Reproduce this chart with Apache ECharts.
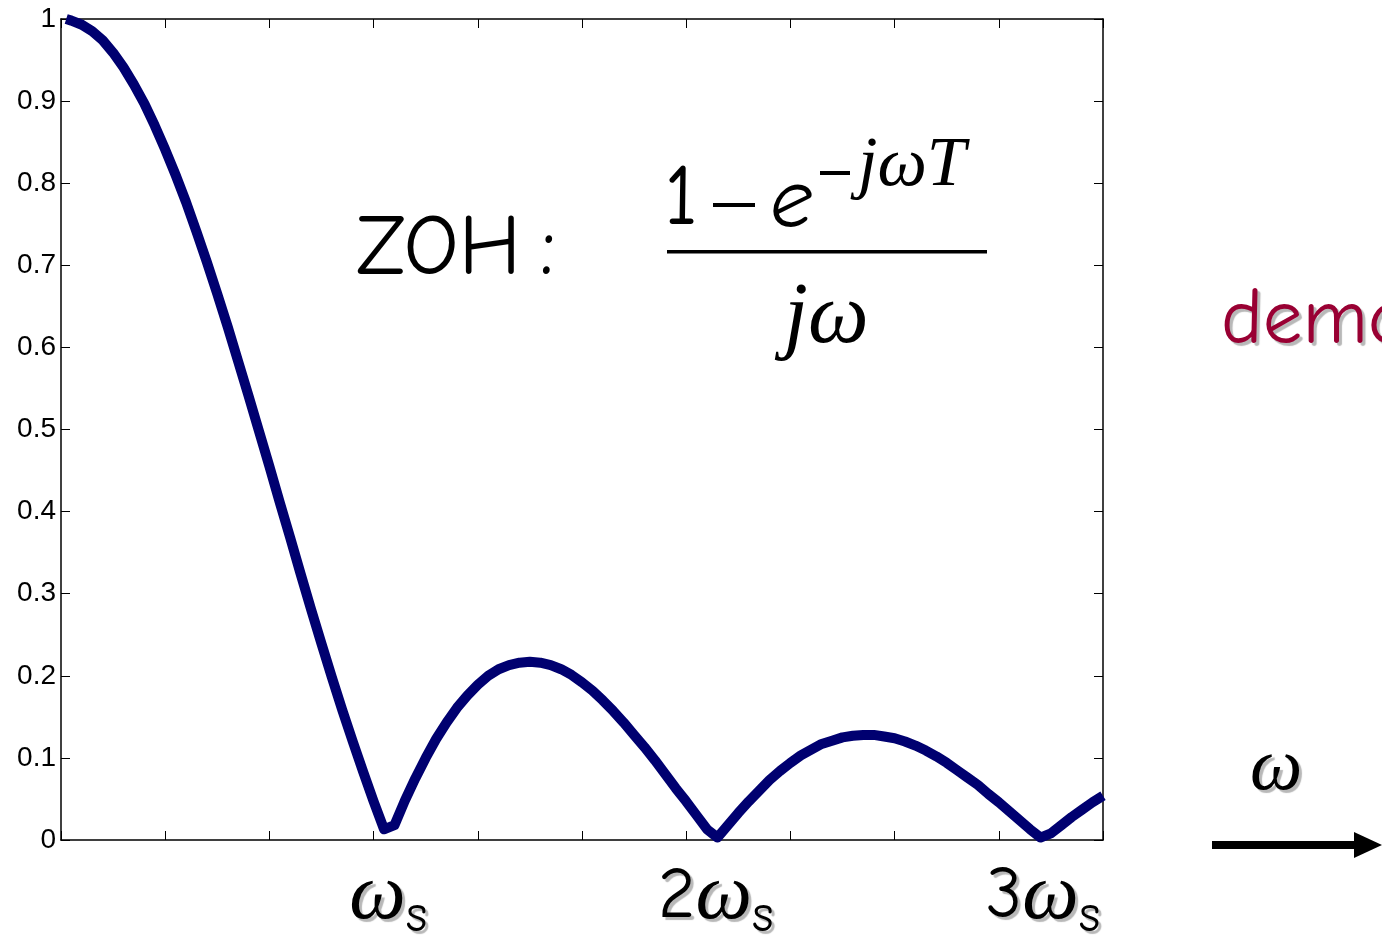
<!DOCTYPE html>
<html>
<head>
<meta charset="utf-8">
<script src="https://cdn.jsdelivr.net/npm/echarts@6/dist/echarts.min.js"></script>
<style>
  html, body { margin: 0; padding: 0; background: #fff; }
  #chart { width: 1382px; height: 939px; }
</style>
</head>
<body>
<div id="chart"></div>
<script>
// Normalised frequency samples (rad) and magnitude of the zero-order hold response
const freq = [
  0.05, 0.1, 0.2, 0.3, 0.4, 0.5, 0.6, 0.7, 0.8, 0.9,
  1.0, 1.1, 1.2, 1.3, 1.4, 1.5, 1.6, 1.7, 1.8, 1.9,
  2.0, 2.1, 2.2, 2.3, 2.4, 2.5, 2.6, 2.7, 2.8, 2.9,
  3.0, 3.1, 3.2, 3.3, 3.4, 3.5, 3.6, 3.7, 3.8, 3.9,
  4.0, 4.1, 4.2, 4.3, 4.4, 4.5, 4.6, 4.7, 4.8, 4.9,
  5.0, 5.1, 5.2, 5.3, 5.4, 5.5, 5.6, 5.7, 5.8, 5.9,
  6.0, 6.1, 6.2, 6.3, 6.4, 6.5, 6.6, 6.7, 6.8, 6.9,
  7.0, 7.1, 7.2, 7.3, 7.4, 7.5, 7.6, 7.7, 7.8, 7.9,
  8.0, 8.1, 8.2, 8.3, 8.4, 8.5, 8.6, 8.7, 8.8, 8.9,
  9.0, 9.1, 9.2, 9.3, 9.4, 9.5, 9.6, 9.7, 9.8, 9.9,
  10.0
];
const magnitude = [
  1.000, 0.998, 0.993, 0.985, 0.974, 0.959, 0.941, 0.920, 0.897, 0.870,
  0.841, 0.810, 0.777, 0.741, 0.704, 0.665, 0.625, 0.583, 0.541, 0.498,
  0.455, 0.411, 0.368, 0.324, 0.281, 0.239, 0.198, 0.158, 0.120, 0.083,
  0.047, 0.013, 0.018, 0.048, 0.075, 0.100, 0.123, 0.143, 0.161, 0.176,
  0.189, 0.200, 0.208, 0.213, 0.216, 0.217, 0.216, 0.213, 0.208, 0.201,
  0.192, 0.182, 0.170, 0.157, 0.143, 0.128, 0.113, 0.097, 0.080, 0.063,
  0.047, 0.030, 0.013, 0.003, 0.018, 0.033, 0.047, 0.060, 0.073, 0.084,
  0.094, 0.103, 0.110, 0.117, 0.121, 0.125, 0.127, 0.128, 0.128, 0.126,
  0.124, 0.120, 0.115, 0.109, 0.102, 0.094, 0.085, 0.076, 0.067, 0.056,
  0.046, 0.035, 0.024, 0.013, 0.003, 0.008, 0.018, 0.028, 0.037, 0.046,
  0.054
];

// Multiples of the sampling frequency marked under the axis
const omegaTicks = [3.1416, 6.2832, 9.4248];
const omegaCoef = ['', '2', '3'];
const yTicks = ['0', '0.1', '0.2', '0.3', '0.4', '0.5', '0.6', '0.7', '0.8', '0.9', '1'];

const seriesData = freq.map((f, i) => [f, magnitude[i]]);

const chart = echarts.init(document.getElementById('chart'), null, { renderer: 'canvas' });

const comic = '"Comic Sans MS", "Comic Neue", "DejaVu Sans", sans-serif';
const greek = '"Liberation Serif", "DejaVu Serif", serif';
const shadow = { textShadowColor: '#b8b8b8', textShadowOffsetX: 3, textShadowOffsetY: 3, textShadowBlur: 1 };

const axisCommon = {
  type: 'value',
  min: 0,
  axisLine: { show: true, onZero: false, lineStyle: { color: '#000', width: 1.5 } },
  axisTick: { show: true, inside: true, length: 9, lineStyle: { color: '#000', width: 1 } },
  splitLine: { show: false }
};

chart.setOption({
  animation: false,
  backgroundColor: '#fff',
  grid: { left: 61, right: 279, top: 19, bottom: 99, containLabel: false, outerBoundsMode: 'none' },
  xAxis: [
    Object.assign({}, axisCommon, {
      position: 'bottom', max: 10, interval: 1,
      axisLabel: {
        show: true,
        customValues: omegaTicks,
        margin: 12,
        formatter: function (v) {
          const k = omegaTicks.findIndex(t => Math.abs(t - v) < 1e-3);
          const c = omegaCoef[k] || '';
          return (c ? '{n|' + c + '}' : '') + '{w|ω}{s|s}';
        },
        rich: {
          n: Object.assign({ fontFamily: comic, fontSize: 72, color: '#000' }, shadow),
          w: Object.assign({ fontFamily: greek, fontStyle: 'italic', fontSize: 80, color: '#000' }, shadow),
          s: Object.assign({ fontFamily: comic, fontSize: 52, color: '#000', padding: [38, 0, 0, 0] }, shadow)
        }
      }
    }),
    Object.assign({}, axisCommon, {
      position: 'top', max: 10, interval: 1,
      axisLabel: { show: false }
    })
  ],
  yAxis: [
    Object.assign({}, axisCommon, {
      position: 'left', max: 1, interval: 0.1,
      axisLabel: {
        show: true, margin: 5, color: '#000',
        fontFamily: '"Liberation Sans", Arial, sans-serif', fontSize: 28,
        formatter: function (v) { return yTicks[Math.round(v * 10)]; }
      }
    }),
    Object.assign({}, axisCommon, {
      position: 'right', max: 1, interval: 0.1,
      axisLabel: { show: false }
    })
  ],
  series: [{
    type: 'line',
    xAxisIndex: 0,
    yAxisIndex: 0,
    data: seriesData,
    showSymbol: false,
    symbol: 'none',
    clip: false,
    lineStyle: { color: '#000070', width: 10, cap: 'butt', join: 'round' }
  }],
  graphic: [
    { type: 'text', left: 356, top: 207,
      style: { text: 'ZOH', font: '86px ' + comic, fill: '#000' } },
    { type: 'text', left: 540, top: 207,
      style: { text: ':', font: '86px ' + comic, fill: '#000' } },
    { type: 'text', left: 664, top: 157,
      style: { text: '1', font: '86px ' + comic, fill: '#000' } },
    { type: 'rect', shape: { x: 713, y: 203, width: 42, height: 4 }, style: { fill: '#000' } },
    { type: 'text', left: 770, top: 160,
      style: { text: 'e', font: 'italic 86px ' + comic, fill: '#000' } },
    { type: 'rect', shape: { x: 820, y: 171, width: 30, height: 4 }, style: { fill: '#000' } },
    { type: 'text', left: 858, top: 132,
      style: { text: 'jωT', font: 'italic 70px ' + greek, fill: '#000' } },
    { type: 'rect', shape: { x: 667, y: 250, width: 320, height: 3.5 }, style: { fill: '#000' } },
    { type: 'text', left: 784, top: 276,
      style: { text: 'jω', font: 'italic 86px ' + greek, fill: '#000' } },
    { type: 'text', left: 1221, top: 281,
      style: Object.assign({ text: 'demo', font: '79px ' + comic, fill: '#990033' }, shadow) },
    { type: 'text', left: 1250, top: 733,
      style: Object.assign({ text: 'ω', font: 'italic 74px ' + greek, fill: '#000' }, shadow) },
    { type: 'rect', shape: { x: 1212, y: 841, width: 145, height: 8 }, style: { fill: '#000' } },
    { type: 'polygon', shape: { points: [[1354, 832], [1382, 845], [1354, 858]] }, style: { fill: '#000' } }
  ]
});
</script>
</body>
</html>
